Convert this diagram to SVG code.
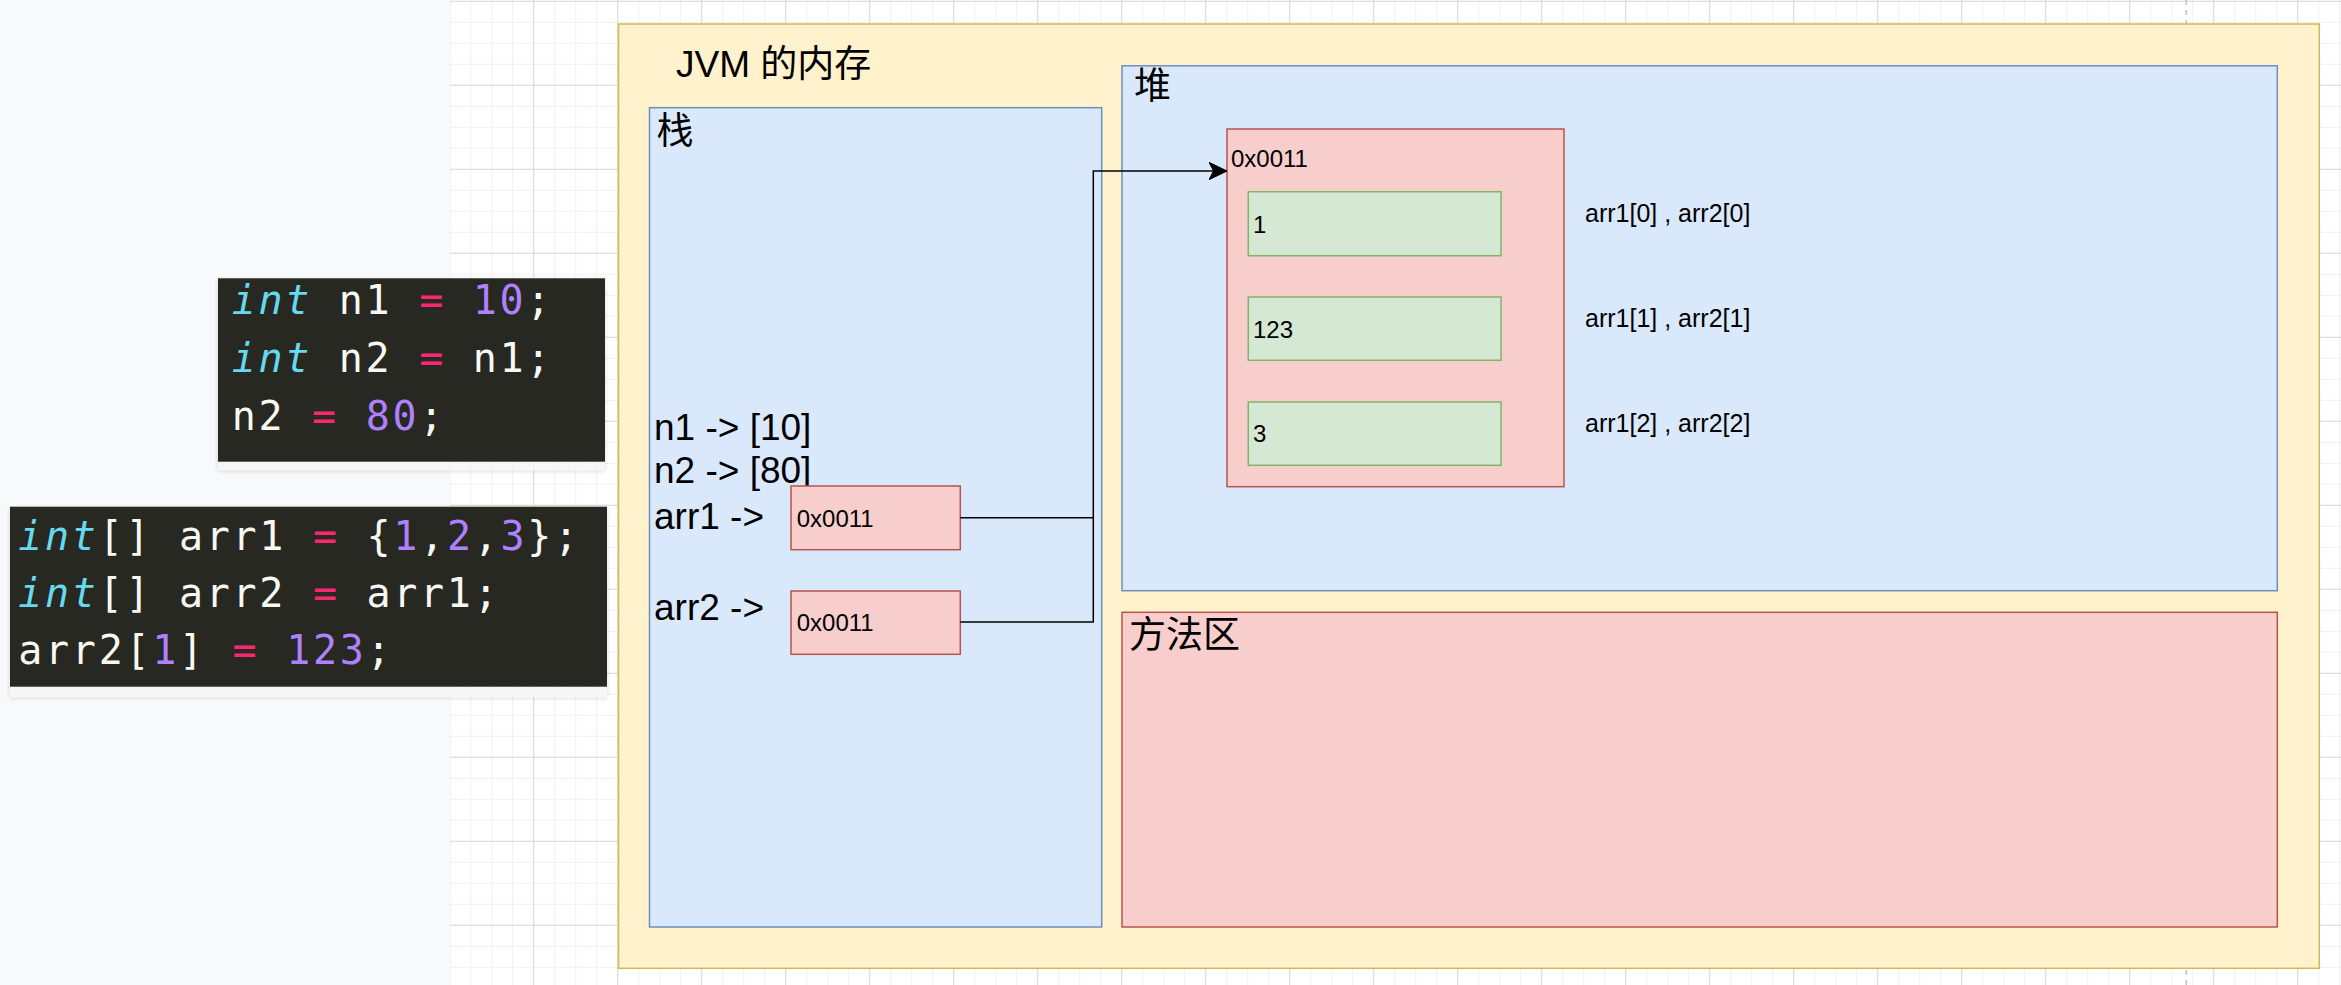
<svg xmlns="http://www.w3.org/2000/svg" width="2341" height="985" viewBox="0 0 2341 985">
<defs>
<pattern id="gMinor" patternUnits="userSpaceOnUse" x="8.2" y="0.8" width="21" height="21">
<path d="M0.5 0 V21 M0 0.5 H21" stroke="#f0f0f0" stroke-width="1" fill="none"/>
</pattern>
<pattern id="gMajor" patternUnits="userSpaceOnUse" x="29.2" y="0.8" width="84" height="84">
<path d="M0.5 0 V84 M0 0.5 H84" stroke="#dadada" stroke-width="1" fill="none"/>
</pattern>
<filter id="sh" x="-5%" y="-10%" width="110%" height="125%">
<feDropShadow dx="0" dy="1" stdDeviation="2" flood-color="#000" flood-opacity="0.18"/>
</filter>
<marker id="arr" viewBox="0 0 20 20" refX="18" refY="10" markerWidth="20" markerHeight="20" markerUnits="userSpaceOnUse" orient="auto">
<path d="M18 10 L0 1.3 L4.5 10 L0 18.7 Z" fill="#000" stroke="#000" stroke-width="1"/>
</marker>
</defs>
<style>
.yel{fill:#fff2cc;stroke:#d6b656;stroke-width:1.5}
.blu{fill:#dae8fc;stroke:#6c8ebf;stroke-width:1.5}
.red{fill:#f8cecc;stroke:#b85450;stroke-width:1.5}
.grn{fill:#d5e8d4;stroke:#82b366;stroke-width:1.5}
.big{font-family:"Liberation Sans","Noto Sans CJK SC",sans-serif;font-size:37px;fill:#000}
.sm{font-family:"Liberation Sans",sans-serif;font-size:24px;fill:#000}
.lab{font-family:"Liberation Sans",sans-serif;font-size:25px;fill:#000;white-space:pre}
.code{font-family:"DejaVu Sans Mono",monospace;font-size:40px;letter-spacing:2.7px;fill:#f8f8f2;white-space:pre}
.kw{fill:#66d9ef;font-style:italic}
.op{fill:#f92672}
.num{fill:#ae81ff}
.conn{fill:none;stroke:#000;stroke-width:1.5}
</style>
<rect x="0" y="0" width="2341" height="985" fill="#f8f9fa"/>
<rect x="450" y="0" width="1891" height="985" fill="#ffffff"/>
<rect x="450" y="0" width="1891" height="985" fill="url(#gMinor)"/>
<rect x="450" y="0" width="1891" height="985" fill="url(#gMajor)"/>
<line x1="2186.3" y1="0" x2="2186.3" y2="985" stroke="#b8c2cc" stroke-width="1.5" stroke-dasharray="5 5"/>

<g id="code1">
<rect x="218" y="278.3" width="387" height="192" fill="#f6f6f6" opacity="0.85" filter="url(#sh)"/>
<rect x="218" y="278.3" width="387" height="183.4" fill="#272822"/>
<text class="code" x="231.7" y="314"><tspan class="kw">int</tspan> n1 <tspan class="op">=</tspan> <tspan class="num">10</tspan>;</text>
<text class="code" x="231.7" y="371.7"><tspan class="kw">int</tspan> n2 <tspan class="op">=</tspan> n1;</text>
<text class="code" x="231.7" y="430">n2 <tspan class="op">=</tspan> <tspan class="num">80</tspan>;</text>
</g>

<g id="code2">
<rect x="10" y="506.7" width="597" height="190.6" fill="#f6f6f6" opacity="0.85" filter="url(#sh)"/>
<rect x="10" y="506.7" width="597" height="180" fill="#272822"/>
<text class="code" x="18.3" y="550"><tspan class="kw">int</tspan>[] arr1 <tspan class="op">=</tspan> {<tspan class="num">1</tspan>,<tspan class="num">2</tspan>,<tspan class="num">3</tspan>};</text>
<text class="code" x="18.3" y="606.7"><tspan class="kw">int</tspan>[] arr2 <tspan class="op">=</tspan> arr1;</text>
<text class="code" x="18.3" y="664">arr2[<tspan class="num">1</tspan>] <tspan class="op">=</tspan> <tspan class="num">123</tspan>;</text>
</g>

<g id="jvm">
<rect class="yel" x="618.5" y="24" width="1700.8" height="944.3"/>
<text class="big" x="676" y="77">JVM 的内存</text>
</g>

<g id="stack">
<rect class="blu" x="649.5" y="107.7" width="452.2" height="819.3"/>
<text class="big" x="656.5" y="144">栈</text>
<text class="big" x="654" y="440">n1 -&gt; [10]</text>
<text class="big" x="654" y="483.3">n2 -&gt; [80]</text>
<text class="big" x="654" y="529.3">arr1 -&gt;</text>
<text class="big" x="654" y="620">arr2 -&gt;</text>
</g>

<g id="arr1ref">
<rect class="red" x="791" y="486" width="169.3" height="63.7"/>
<text class="sm" x="796.7" y="526.7">0x0011</text>
</g>

<g id="arr2ref">
<rect class="red" x="791" y="591" width="169.3" height="63.3"/>
<text class="sm" x="796.7" y="631.3">0x0011</text>
</g>

<g id="heap">
<rect class="blu" x="1122" y="65.8" width="1155.3" height="524.9"/>
<text class="big" x="1134" y="99">堆</text>
</g>

<g id="method">
<rect class="red" x="1122" y="612.3" width="1155.3" height="314.7"/>
<text class="big" x="1129" y="648">方法区</text>
</g>

<g id="heapobj">
<rect class="red" x="1227" y="129" width="337" height="357.7"/>
<text class="sm" x="1231" y="167.3">0x0011</text>
</g>

<g id="elem0">
<rect class="grn" x="1248.3" y="191.7" width="252.7" height="64"/>
<text class="sm" x="1253" y="232.7">1</text>
</g>
<g id="elem1">
<rect class="grn" x="1248.3" y="297" width="252.7" height="63.3"/>
<text class="sm" x="1253" y="338">123</text>
</g>
<g id="elem2">
<rect class="grn" x="1248.3" y="402" width="252.7" height="63.3"/>
<text class="sm" x="1253" y="442.3">3</text>
</g>

<g id="labels">
<text class="lab" x="1585" y="222">arr1[0] , arr2[0]</text>
<text class="lab" x="1585" y="327">arr1[1] , arr2[1]</text>
<text class="lab" x="1585" y="432">arr1[2] , arr2[2]</text>
</g>

<g id="connectors">
<path class="conn" d="M960.3 517.7 H1093.3 V171 H1227" marker-end="url(#arr)"/>
<path class="conn" d="M960.3 622 H1093.3 V517.7"/>
</g>
</svg>
